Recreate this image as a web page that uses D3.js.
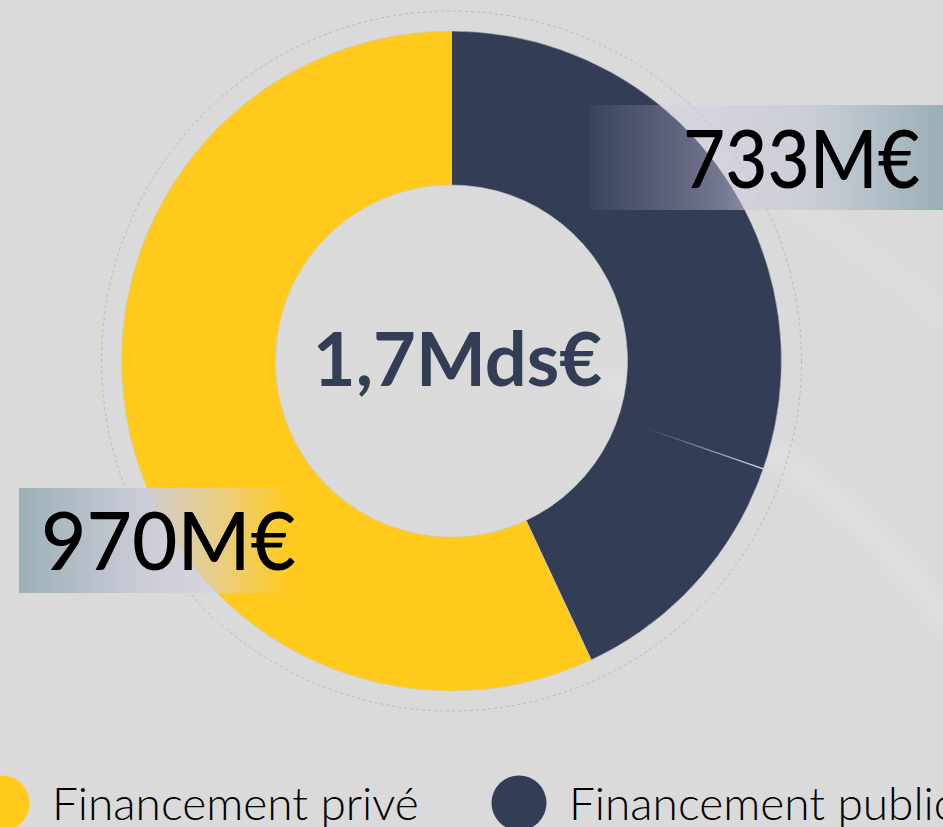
<!DOCTYPE html>
<html>
<head>
<meta charset="utf-8">
<script src="https://cdn.jsdelivr.net/npm/d3@7"></script>
<style>
    html, body { margin: 0; padding: 0; background: #dadada; overflow: hidden; }
    svg { display: block; }
</style>
</head>
<body>
<svg id="chart"></svg>
<script>
'use strict';
// Data
var categories = ['Financement public', 'Financement privé'];
var values = [733, 970];
var valueLabels = ['733M€', '970M€'];
var legendOrder = ['Financement privé', 'Financement public'];
// the public slice shows a faint seam, drawn as two sub-parts
var publicParts = [516, 217];

var colors = {
    'Financement public': '#343d56',
    'Financement privé': '#ffca1c'
};

var width = 943,
    height = 827,
    cx = 451.5,
    cy = 361,
    outerR = 330,
    innerR = 176,
    ringR = 350
;

var svg = d3.select('#chart')
    .attr('width', width)
    .attr('height', height)
;
var defs = svg.append('defs');

// Background with soft swooshes
svg.append('rect')
    .attr('width', width)
    .attr('height', height)
    .attr('fill', '#dadada')
;
defs.append('filter')
    .attr('id', 'blur')
    .append('feGaussianBlur')
    .attr('stdDeviation', 8)
;
var swoosh = svg.append('g').attr('filter', 'url(#blur)');
swoosh.append('path')
    .attr('d', 'M600,380 C760,420 880,520 960,640')
    .attr('fill', 'none')
    .attr('stroke', '#dfdfdf')
    .attr('stroke-width', 22)
;
swoosh.append('path')
    .attr('d', 'M700,160 C800,200 880,260 960,330')
    .attr('fill', 'none')
    .attr('stroke', '#dedede')
    .attr('stroke-width', 16)
;

var g = svg.append('g')
    .attr('transform', 'translate(' + cx + ',' + cy + ')')
;

// Donut
var pie = d3.pie()
    .sort(null)
    .value(function(d) { return d.value; })
;
var data = categories.map(function(c, i) { return {name: c, value: values[i]}; });
var arcs = pie(data);
var arc = d3.arc()
    .innerRadius(innerR)
    .outerRadius(outerR)
;
g.selectAll('path.slice')
    .data(arcs)
    .enter()
    .append('path')
    .attr('class', 'slice')
    .attr('d', arc)
    .attr('fill', function(d) { return colors[d.data.name]; })
    .attr('stroke', '#c9c9cf')
    .attr('stroke-width', 0.6)
;

// Seam inside the public slice
var angleScale = d3.scaleLinear()
    .domain([0, d3.sum(values)])
    .range([0, 2 * Math.PI])
;
var seamA = angleScale(publicParts[0]);
var seamGrad = defs.append('linearGradient')
    .attr('id', 'seamGrad')
    .attr('gradientUnits', 'userSpaceOnUse')
    .attr('x1', Math.sin(seamA) * (innerR + 30))
    .attr('y1', -Math.cos(seamA) * (innerR + 30))
    .attr('x2', Math.sin(seamA) * outerR)
    .attr('y2', -Math.cos(seamA) * outerR)
;
seamGrad.append('stop').attr('offset', 0).attr('stop-color', '#d8dae6').attr('stop-opacity', 0);
seamGrad.append('stop').attr('offset', 1).attr('stop-color', '#e6e8f0').attr('stop-opacity', 0.95);
g.append('line')
    .attr('x1', Math.sin(seamA) * (innerR + 30))
    .attr('y1', -Math.cos(seamA) * (innerR + 30))
    .attr('x2', Math.sin(seamA) * outerR)
    .attr('y2', -Math.cos(seamA) * outerR)
    .attr('stroke', 'url(#seamGrad)')
    .attr('stroke-width', 1.2)
;

// Value label boxes
function addGradient(id, stops) {
    var lg = defs.append('linearGradient')
        .attr('id', id)
        .attr('x1', 0).attr('x2', 1).attr('y1', 0).attr('y2', 0);
    stops.forEach(function(s) {
        lg.append('stop')
            .attr('offset', s[0])
            .attr('stop-color', s[1])
            .attr('stop-opacity', s[2]);
    });
}
addGradient('boxRight', [
    [0, '#c8c4dc', 0.05],
    [0.35, '#ccc8e0', 0.4],
    [0.6, '#c8ccd6', 0.85],
    [1, '#96acb3', 1]
]);
addGradient('boxLeft', [
    [0, '#9cb0b7', 1],
    [0.5, '#ccccd8', 0.9],
    [0.75, '#d4d0e0', 0.5],
    [1, '#d8d4e0', 0]
]);

var boxes = [
    {label: valueLabels[0], x: 590, y: 105, w: 360, h: 105, fill: 'url(#boxRight)', tx: 683, ty: 188, size: 81, len: 237},
    {label: valueLabels[1], x: 19, y: 488, w: 272, h: 105, fill: 'url(#boxLeft)', tx: 41, ty: 570, size: 81, len: 255}
];
boxes.forEach(function(b) {
    svg.append('rect')
        .attr('x', b.x)
        .attr('y', b.y)
        .attr('width', b.w)
        .attr('height', b.h)
        .attr('fill', b.fill)
    ;
});

// Dotted ring
g.append('circle')
    .attr('r', ringR)
    .attr('fill', 'none')
    .attr('stroke', '#b4b8cc')
    .attr('stroke-width', 1)
    .attr('stroke-dasharray', '3,3')
;

boxes.forEach(function(b) {
    svg.append('text')
        .attr('x', b.tx)
        .attr('y', b.ty)
        .attr('font-family', 'Lato, sans-serif')
        .attr('font-weight', 500)
        .attr('font-size', b.size)
        .attr('textLength', b.len)
        .attr('lengthAdjust', 'spacingAndGlyphs')
        .attr('fill', '#000')
        .text(b.label)
    ;
});

// Center total
var total = d3.sum(values);
g.append('text')
    .attr('text-anchor', 'middle')
    .attr('x', 6)
    .attr('y', 25)
    .attr('font-family', 'Lato, sans-serif')
    .attr('font-weight', 700)
    .attr('font-size', 74)
    .attr('fill', '#343d56')
    .text((total / 1000).toFixed(1).replace('.', ',') + 'Mds€')
;

// Legend
var legendX = d3.scaleOrdinal()
    .domain(legendOrder)
    .range([2, 519])
;
var legend = svg.selectAll('g.legend')
    .data(legendOrder)
    .enter()
    .append('g')
    .attr('class', 'legend')
    .attr('transform', function(d) { return 'translate(' + legendX(d) + ',803)'; })
;
legend.append('circle')
    .attr('r', 27.5)
    .attr('fill', function(d) { return colors[d]; })
;
legend.append('text')
    .attr('x', 50)
    .attr('y', 17)
    .attr('font-family', 'Lato, sans-serif')
    .attr('font-weight', 300)
    .attr('font-size', 46)
    .attr('fill', '#000')
    .text(function(d) { return d; })
;
</script>
</body>
</html>
